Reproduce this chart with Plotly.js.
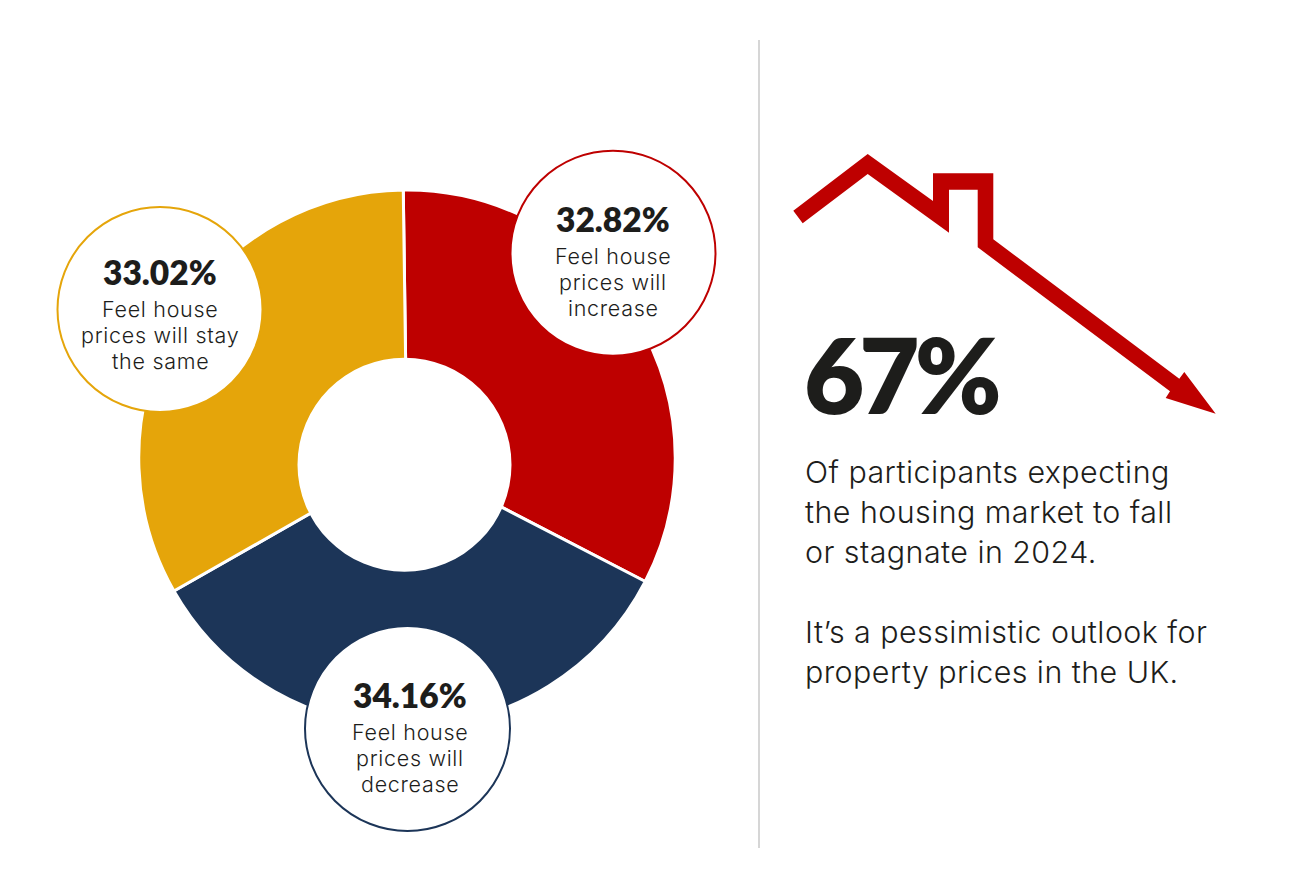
<!DOCTYPE html>
<html>
<head>
<meta charset="utf-8">
<script src="https://cdn.plot.ly/plotly-3.0.1.min.js"></script>
<style>html,body{margin:0;padding:0;background:#fff}#c{width:1290px;height:882px}</style>
</head>
<body>
<div id="c"></div>
<script>
const categories = ['Feel house prices will increase','Feel house prices will decrease','Feel house prices will stay the same'];
const values = [32.82, 34.16, 33.02];
const colors = ['#BE0000','#1C3558','#E5A50A'];
const bubbleLines = [['Feel house','prices will','increase'],['Feel house','prices will','decrease'],['Feel house','prices will stay','the same']];
const discCentres = [[613,253.2],[407.5,728.5],[160,309.5]];
const textAnchors = [[613,219],[410,695],[160,272]];
const headline = '67%';
const bodyLines = [['Of participants expecting',472],['the housing market to fall',512],['or stagnate in 2024.',552],['It’s a pessimistic outlook for',632],['property prices in the UK.',672]];
const arrowPts = [[793.3,210.7],[867.7,154],[933,201],[933,173.3],[993.3,173.3],[993.3,239.3],[1179.3,378.7],[1184.3,372],[1215.7,413.7],[1165.7,398],[1170,391.3],[977.7,247.3],[977.7,189.7],[949,189.7],[949,232.7],[867.7,174],[802.7,223.3]];

const W=1290,H=882,FONT='Inter, sans-serif',BOLD='Lato, sans-serif',INK='#1d1d1b';
const px=x=>x/W, py=y=>1-y/H;
const circle=(cx,cy,r,line,lw)=>({type:'circle',xref:'paper',yref:'paper',x0:px(cx-r),x1:px(cx+r),y0:py(cy+r),y1:py(cy-r),fillcolor:'#fff',line:{color:line,width:lw},layer:'above'});
const text=(t,x,y,size,weight,anchor,fam,sp)=>({text:sp?'<span style="letter-spacing:'+sp+'">'+t+'</span>':t,xref:'paper',yref:'paper',x:px(x),y:py(y),xanchor:anchor,yanchor:'middle',showarrow:false,font:{family:fam||FONT,size:size,color:INK,weight:weight}});

const shapes=[
  circle(404.5,464.7,107,'#fff',0),
  {type:'line',xref:'paper',yref:'paper',x0:px(759),x1:px(759),y0:py(40),y1:py(848),line:{color:'#c8c8c8',width:1.5},layer:'above'},
  {type:'path',xref:'paper',yref:'paper',path:'M'+arrowPts.map(p=>px(p[0])+','+py(p[1])).join('L')+'Z',fillcolor:colors[0],line:{width:0},layer:'above'}
];
const annotations=[];
values.forEach((v,i)=>{
  const [cx,cy]=discCentres[i];
  const [tx,ty]=textAnchors[i];
  shapes.push(circle(cx,cy,102.5,colors[i],2));
  annotations.push(text(v.toFixed(2)+'%',tx,ty,33.5,800,'center',BOLD));
  bubbleLines[i].forEach((l,j)=>annotations.push(text(l,tx,ty+37+j*26,21.5,300,'center',FONT,'0.7px')));
});
annotations.push(text(headline,802,373,104,800,'left',BOLD,'-5px'));
bodyLines.forEach(b=>annotations.push(text(b[0],802.5,b[1],30.4,300,'left',FONT,'0.45px')));

Plotly.newPlot('c',[{
  type:'pie',labels:categories,values:values,sort:false,direction:'clockwise',rotation:-0.8,
  textinfo:'none',hoverinfo:'label+value',showlegend:false,
  marker:{colors:colors,line:{color:'#fff',width:3}},
  domain:{x:[px(138.5),px(675.5)],y:[py(726.5),py(190)]}
}],{
  width:W,height:H,margin:{l:0,r:0,t:0,b:0},paper_bgcolor:'#fff',showlegend:false,
  shapes:shapes,annotations:annotations
},{displayModeBar:false});
</script>
</body>
</html>
